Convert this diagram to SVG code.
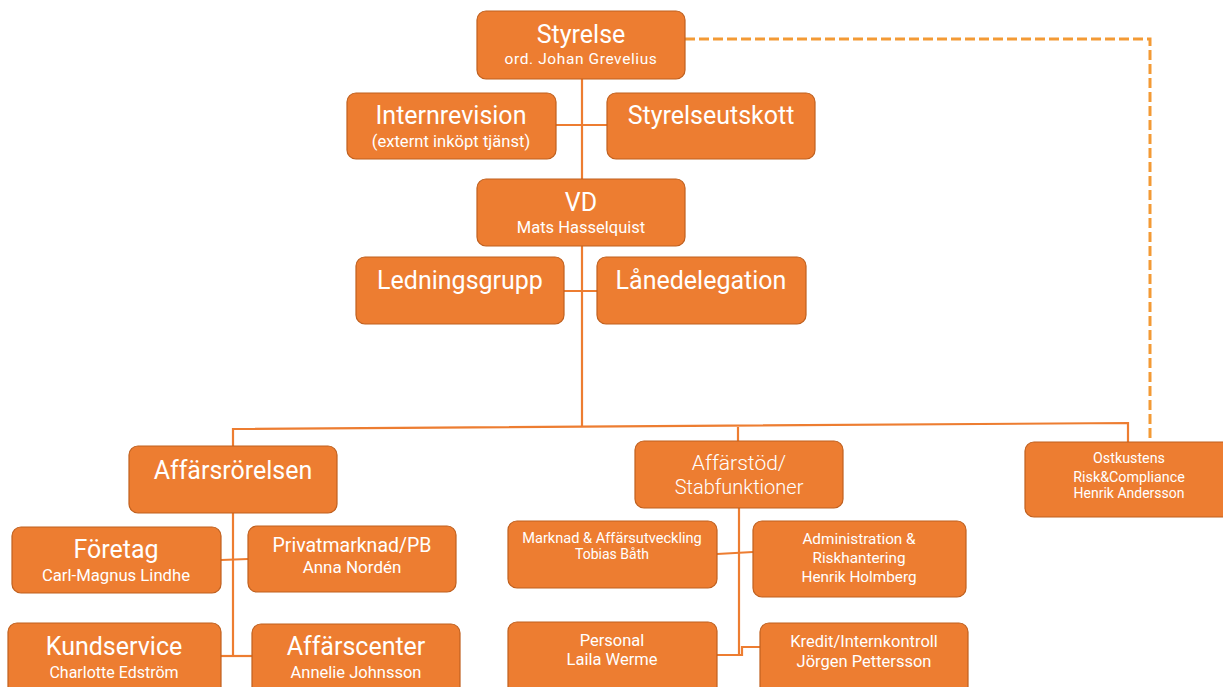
<svg xmlns="http://www.w3.org/2000/svg" width="1223" height="687" viewBox="0 0 1223 687">
<style>
.box{fill:#ED7D31;stroke:#C0601E;stroke-width:1.2}
.t{font-family:Roboto,"Liberation Sans",sans-serif;fill:#fff;text-anchor:middle}
.l{font-weight:300}
.c{fill:none;stroke:#ED7D31;stroke-width:2.2}
.d{fill:none;stroke:#F39A35;stroke-width:3;stroke-dasharray:10 4}
</style>
<rect width="1223" height="687" fill="#fff"/>
<g id="connectors">
<path class="c" d="M582 79V427"/>
<path class="c" d="M556 125H607"/>
<path class="c" d="M564 291H597"/>
<path class="c" d="M233 446V429L1128 423V442"/>
<path class="c" d="M738 427V441"/>
<path class="c" d="M233 513V656"/>
<path class="c" d="M221 560L248 559"/>
<path class="c" d="M221 656H252"/>
<path class="c" d="M739 508V655"/>
<path class="c" d="M717 554L753 552"/>
<path class="c" d="M717 655H742V647H760"/>
<path class="d" d="M685 39H1150V440"/>
</g>
<g id="styrelse"><rect class="box" x="477" y="11" width="208" height="68" rx="9"/>
<text class="t" x="581" y="43" font-size="25">Styrelse</text>
<text class="t" x="581" y="64" font-size="15.5" letter-spacing="0.6">ord. Johan Grevelius</text></g>
<g id="internrevision"><rect class="box" x="347" y="93" width="209" height="66" rx="9"/>
<text class="t" x="451" y="124" font-size="25">Internrevision</text>
<text class="t" x="451" y="147" font-size="16.6">(externt inköpt tjänst)</text></g>
<g id="styrelseutskott"><rect class="box" x="607" y="93" width="208" height="66" rx="9"/>
<text class="t" x="711" y="124" font-size="25">Styrelseutskott</text></g>
<g id="vd"><rect class="box" x="477" y="179" width="208" height="67" rx="9"/>
<text class="t" x="581" y="211" font-size="25">VD</text>
<text class="t" x="581" y="233" font-size="16.5">Mats Hasselquist</text></g>
<g id="ledningsgrupp"><rect class="box" x="356" y="257" width="208" height="67" rx="9"/>
<text class="t" x="460" y="289" font-size="25">Ledningsgrupp</text></g>
<g id="lanedelegation"><rect class="box" x="597" y="257" width="209" height="67" rx="9"/>
<text class="t" x="701" y="289" font-size="25">Lånedelegation</text></g>
<g id="affarsrorelsen"><rect class="box" x="129" y="446" width="208" height="67" rx="9"/>
<text class="t" x="233" y="479" font-size="25">Affärsrörelsen</text></g>
<g id="foretag"><rect class="box" x="12" y="527" width="209" height="66" rx="9"/>
<text class="t" x="116" y="558" font-size="25">Företag</text>
<text class="t" x="116" y="581" font-size="16.7">Carl-Magnus Lindhe</text></g>
<g id="privatmarknad"><rect class="box" x="248" y="526" width="208" height="66" rx="9"/>
<text class="t" x="352" y="552" font-size="19.5">Privatmarknad/PB</text>
<text class="t" x="352" y="573" font-size="17">Anna Nordén</text></g>
<g id="kundservice"><rect class="box" x="8" y="623" width="213" height="80" rx="9"/>
<text class="t" x="114" y="655" font-size="25">Kundservice</text>
<text class="t" x="114" y="678" font-size="16">Charlotte Edström</text></g>
<g id="affarscenter"><rect class="box" x="252" y="624" width="208" height="80" rx="9"/>
<text class="t" x="356" y="655" font-size="25">Affärscenter</text>
<text class="t" x="356" y="678" font-size="16.5">Annelie Johnsson</text></g>
<g id="affarstod"><rect class="box" x="635" y="441" width="208" height="67" rx="9"/>
<text class="t l" x="739" y="470" font-size="21">Affärstöd/</text>
<text class="t l" x="739" y="494" font-size="20">Stabfunktioner</text></g>
<g id="marknad"><rect class="box" x="508" y="521" width="209" height="67" rx="9"/>
<text class="t" x="612" y="543" font-size="14.6">Marknad &amp; Affärsutveckling</text>
<text class="t" x="612" y="559" font-size="14">Tobias  Båth</text></g>
<g id="administration"><rect class="box" x="753" y="521" width="213" height="76" rx="9"/>
<text class="t" x="859" y="544" font-size="15.3">Administration &amp;</text>
<text class="t" x="859" y="563" font-size="15.3">Riskhantering</text>
<text class="t" x="859" y="582" font-size="15.3">Henrik Holmberg</text></g>
<g id="personal"><rect class="box" x="508" y="622" width="209" height="80" rx="9"/>
<text class="t" x="612" y="646" font-size="16.5">Personal</text>
<text class="t" x="612" y="665" font-size="16.5">Laila Werme</text></g>
<g id="kredit"><rect class="box" x="760" y="623" width="208" height="80" rx="9"/>
<text class="t" x="864" y="647" font-size="16.5">Kredit/Internkontroll</text>
<text class="t" x="864" y="667" font-size="16.5">Jörgen Pettersson</text></g>
<g id="ostkustens"><rect class="box" x="1025" y="442" width="208" height="75" rx="9"/>
<text class="t" x="1129" y="463" font-size="14.3">Ostkustens</text>
<text class="t" x="1129" y="482" font-size="14.3">Risk&amp;Compliance</text>
<text class="t" x="1129" y="498" font-size="14">Henrik  Andersson</text></g>
</svg>
